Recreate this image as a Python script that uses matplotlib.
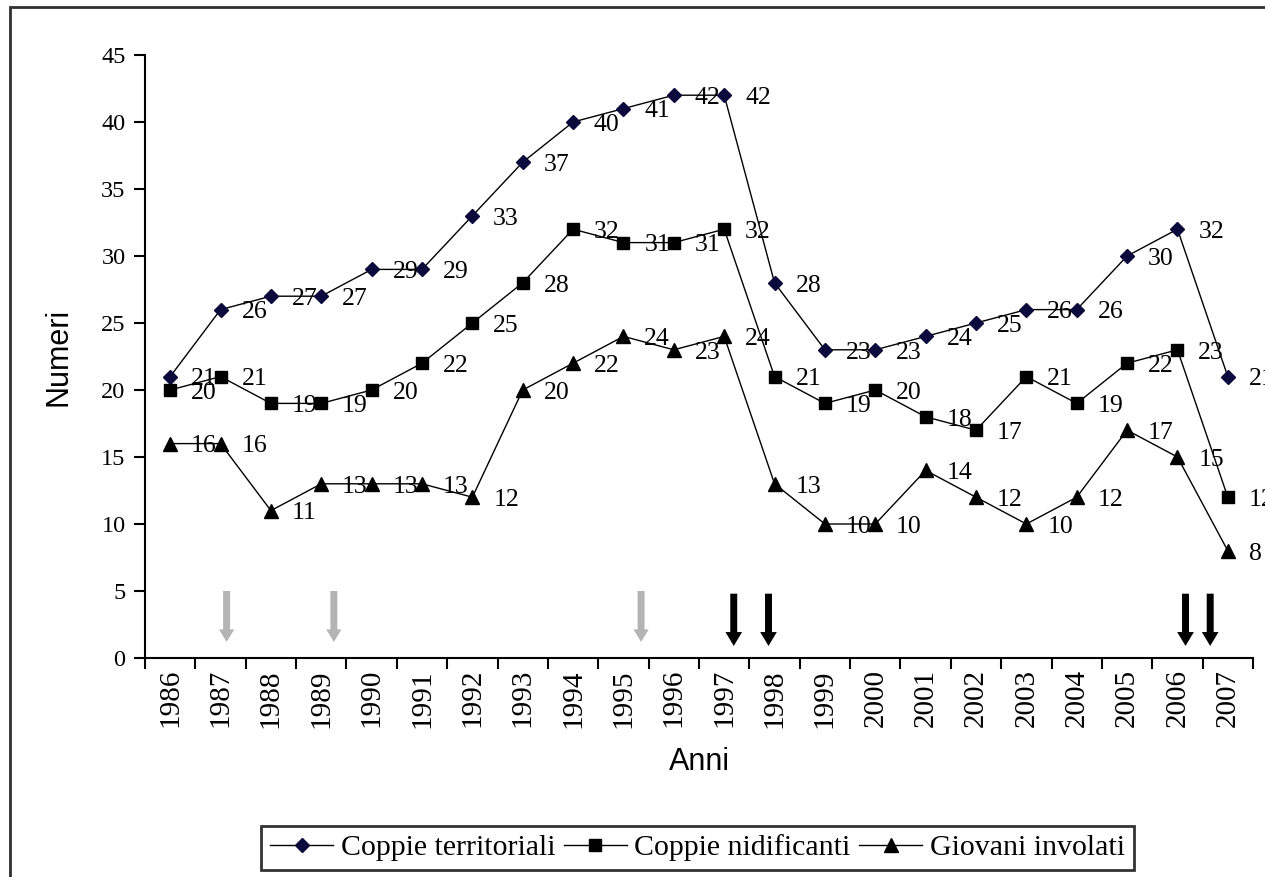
import matplotlib
matplotlib.use("Agg")
import matplotlib.pyplot as plt
from matplotlib.patches import Rectangle

# Dati
anni = ["1986", "1987", "1988", "1989", "1990", "1991", "1992", "1993", "1994", "1995", "1996",
        "1997", "1998", "1999", "2000", "2001", "2002", "2003", "2004", "2005", "2006", "2007"]
territoriali = [21, 26, 27, 27, 29, 29, 33, 37, 40, 41, 42, 42, 28, 23, 23, 24, 25, 26, 26, 30, 32, 21]
nidificanti = [20, 21, 19, 19, 20, 22, 25, 28, 32, 31, 31, 32, 21, 19, 20, 18, 17, 21, 19, 22, 23, 12]
involati = [16, 16, 11, 13, 13, 13, 12, 20, 22, 24, 23, 24, 13, 10, 10, 14, 12, 10, 12, 17, 15, 8]

# frecce (posizione in unità di categoria)
frecce_grigie = [1.12, 3.25, 9.35]
frecce_nere = [11.19, 11.88, 20.16, 20.65]

serif = "Liberation Serif"
sans = "Liberation Sans"

fig = plt.figure(figsize=(12.65, 8.77), dpi=100)
ax = fig.add_axes([145 / 1265, 1 - 658 / 877, (1253 - 145) / 1265, (658 - 55) / 877])

x = list(range(len(anni)))
ax.plot(x, territoriali, color="black", lw=1, marker="D", ms=7,
        mfc="#0a0a3c", mec="#0a0a3c", label="Coppie territoriali", zorder=3)
ax.plot(x, nidificanti, color="black", lw=1, marker="s", ms=9,
        mfc="black", mec="black", label="Coppie nidificanti", zorder=3)
ax.plot(x, involati, color="black", lw=1, marker="^", ms=10,
        mfc="black", mec="black", label="Giovani involati", zorder=3)

# etichette dei valori
for serie in (territoriali, nidificanti, involati):
    for i, v in enumerate(serie):
        ax.annotate(str(v), (i, v), xytext=(15, -2), textcoords="offset points",
                    ha="left", va="center", fontsize=18.5, family=serif,
                    annotation_clip=False, zorder=4)

# frecce
for xf in frecce_grigie:
    ax.annotate("", xy=(xf, 1.2), xytext=(xf, 5.0),
                arrowprops=dict(facecolor="#b4b4b4", edgecolor="none",
                                width=5, headwidth=11, headlength=9, shrink=0))
for xf in frecce_nere:
    ax.annotate("", xy=(xf, 0.9), xytext=(xf, 4.8),
                arrowprops=dict(facecolor="black", edgecolor="none",
                                width=5, headwidth=12, headlength=10, shrink=0))

ax.set_xlim(-0.5, len(anni) - 0.5)
ax.set_ylim(0, 45)
ax.set_yticks(range(0, 46, 5))
ax.set_xticks([i - 0.5 for i in range(len(anni) + 1)])
ax.set_xticklabels([])
ax.set_xticks(x, minor=True)
ax.set_xticklabels(anni, minor=True, rotation=90, fontsize=21, family=serif)
ax.tick_params(axis="x", which="minor", length=0, pad=8)
ax.tick_params(axis="x", which="major", length=8, width=1.5, direction="out")
ax.tick_params(axis="y", length=8, width=1.5, direction="out", pad=6, labelsize=17.5)
for lab in ax.get_yticklabels():
    lab.set_family(serif)

for side in ("top", "right"):
    ax.spines[side].set_visible(False)
for side in ("left", "bottom"):
    ax.spines[side].set_linewidth(1.5)

ax.set_ylabel("Numeri", fontsize=22, family=sans, labelpad=20)
ax.set_xlabel("Anni", fontsize=22, family=sans, labelpad=14)

leg = ax.legend(loc="center", bbox_to_anchor=((253 + 1142) / 2 / 1265, 1 - 848 / 877),
                bbox_transform=fig.transFigure, ncol=3, frameon=True, fancybox=False,
                prop={"family": serif, "size": 21.5}, handlelength=2.1, handletextpad=0.25,
                columnspacing=0.3, borderpad=0.3, borderaxespad=0)
leg.get_frame().set_edgecolor("black")
leg.get_frame().set_linewidth(2)

# cornice esterna
fig.patches.append(Rectangle((10 / 1265, -0.02), 1.1, 1 - 7 / 877 + 0.02,
                             transform=fig.transFigure, fill=False,
                             edgecolor="#303030", lw=2))

fig.savefig("out.png", dpi=100)
